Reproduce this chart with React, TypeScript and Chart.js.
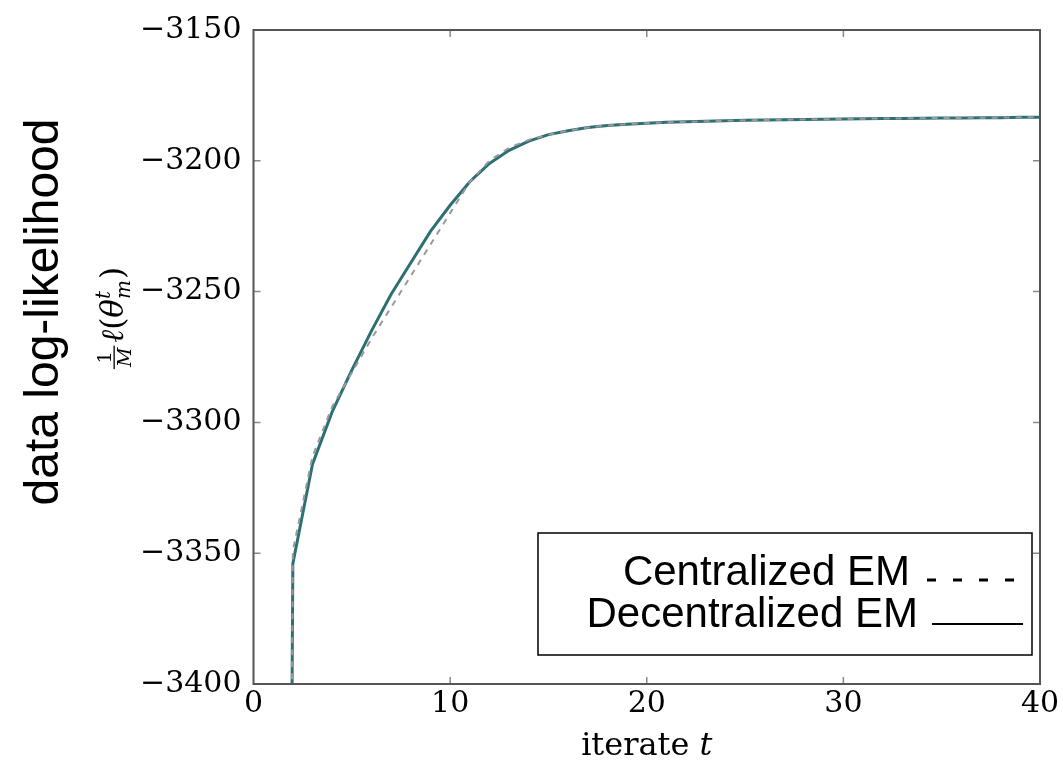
import React, { useEffect, useRef } from "react";
import { Chart, registerables } from "chart.js";

Chart.register(...registerables);

// ---- data ----
const iterations = [
  1, 2, 3, 4, 5, 6, 7, 8, 9, 10, 11, 12, 13, 14, 15, 16, 17, 18, 19, 20,
  21, 22, 23, 24, 25, 26, 27, 28, 29, 30, 31, 32, 33, 34, 35, 36, 37, 38, 39, 40,
];
const centralizedEM = [
  -4600, -3349, -3313, -3294, -3281, -3268, -3256, -3244, -3232, -3220,
  -3208, -3200, -3195, -3192, -3190, -3188.5, -3187.3, -3186.5, -3186, -3185.6,
  -3185.3, -3185.1, -3184.9, -3184.7, -3184.5, -3184.4, -3184.3, -3184.2, -3184.1, -3184,
  -3183.9, -3183.8, -3183.8, -3183.7, -3183.6, -3183.6, -3183.5, -3183.5, -3183.4, -3183.4,
];
const decentralizedEM = [
  -4600, -3354, -3316, -3296, -3280, -3265, -3251, -3239, -3227, -3217,
  -3208, -3201, -3196, -3192.5, -3190, -3188.5, -3187.3, -3186.5, -3186, -3185.6,
  -3185.3, -3185.1, -3184.9, -3184.7, -3184.5, -3184.4, -3184.3, -3184.2, -3184.1, -3184,
  -3183.9, -3183.8, -3183.8, -3183.7, -3183.6, -3183.6, -3183.5, -3183.5, -3183.4, -3183.4,
];
const seriesLabels = ["Centralized EM", "Decentralized EM"];
const xTickValues = [0, 10, 20, 30, 40];
const yTickValues = [-3400, -3350, -3300, -3250, -3200, -3150];
const xTitle = "iterate ";
const xTitleVar = "t";
const yTitleOuter = "data log-likelihood";

const SERIF = '"DejaVu Serif", "Liberation Serif", serif';
const SANS = '"Liberation Sans", Arial, sans-serif';

const framePlugin = {
  id: "frameTicks",
  afterDraw(chart: any) {
    const ctx = chart.ctx;
    const { left, right, top, bottom } = chart.chartArea;
    const xs = chart.scales.x;
    const ys = chart.scales.y;
    ctx.save();
    ctx.strokeStyle = "#8a8a8a";
    ctx.lineWidth = 1.5;
    const tl = 7;
    xTickValues.slice(1, -1).forEach((v) => {
      const px = xs.getPixelForValue(v);
      ctx.beginPath();
      ctx.moveTo(px, bottom);
      ctx.lineTo(px, bottom - tl);
      ctx.moveTo(px, top);
      ctx.lineTo(px, top + tl);
      ctx.stroke();
    });
    yTickValues.slice(1, -1).forEach((v) => {
      const py = ys.getPixelForValue(v);
      ctx.beginPath();
      ctx.moveTo(left, py);
      ctx.lineTo(left + tl, py);
      ctx.moveTo(right, py);
      ctx.lineTo(right - tl, py);
      ctx.stroke();
    });
    ctx.strokeStyle = "#555";
    ctx.lineWidth = 2;
    ctx.strokeRect(left, top, right - left, bottom - top);
    ctx.restore();
  },
};

const titlesPlugin = {
  id: "axisTitles",
  afterDraw(chart: any) {
    const ctx = chart.ctx;
    const { left, right, bottom } = chart.chartArea;
    ctx.save();
    ctx.fillStyle = "#000";
    ctx.textBaseline = "alphabetic";
    ctx.textAlign = "left";

    // x title: "iterate t"
    const fReg = `32px ${SERIF}`;
    const fIt = `italic 32px ${SERIF}`;
    ctx.font = fReg;
    const w1 = ctx.measureText(xTitle).width;
    ctx.font = fIt;
    const w2 = ctx.measureText(xTitleVar).width;
    const cx = (left + right) / 2;
    const bx = cx - (w1 + w2) / 2;
    ctx.font = fReg;
    ctx.fillText(xTitle, bx, bottom + 71);
    ctx.font = fIt;
    ctx.fillText(xTitleVar, bx + w1, bottom + 71);

    // outer y title
    const cy = 312;
    ctx.save();
    ctx.translate(58, cy);
    ctx.rotate(-Math.PI / 2);
    ctx.font = `48px ${SANS}`;
    ctx.textAlign = "center";
    ctx.fillText(yTitleOuter, 0, 0);
    ctx.restore();

    // math y title: 1/M l(theta^t_m)
    ctx.save();
    ctx.translate(123, 318);
    ctx.rotate(-Math.PI / 2);
    ctx.textAlign = "left";
    const big = 31;
    const small = 20;
    const fracF = `19px ${SERIF}`;
    const fracFI = `italic 19px ${SERIF}`;
    ctx.font = fracFI;
    const wM = ctx.measureText("M").width;
    ctx.font = fracF;
    const w1n = ctx.measureText("1").width;
    const fw = wM + 4;
    ctx.font = `italic ${big}px ${SERIF}`;
    const wl = ctx.measureText("\u2113").width;
    const wth = ctx.measureText("\u03B8").width;
    ctx.font = `${big}px ${SERIF}`;
    const wp = ctx.measureText("(").width;
    const wq = ctx.measureText(")").width;
    ctx.font = `italic ${small}px ${SERIF}`;
    const wt = ctx.measureText("t").width;
    const wm = ctx.measureText("m").width;
    const total = fw + 3 + wl + wp + wth + Math.max(wt, wm) + 1 + wq;
    let x = -total / 2;
    // fraction
    ctx.font = fracF;
    ctx.fillText("1", x + (fw - w1n) / 2, -12);
    ctx.fillRect(x, -9.5, fw, 1.3);
    ctx.font = fracFI;
    ctx.fillText("M", x + (fw - wM) / 2, 8);
    x += fw + 3;
    ctx.font = `italic ${big}px ${SERIF}`;
    ctx.fillText("\u2113", x, 0);
    x += wl;
    ctx.font = `${big}px ${SERIF}`;
    ctx.fillText("(", x, 0);
    x += wp;
    ctx.font = `italic ${big}px ${SERIF}`;
    ctx.fillText("\u03B8", x, 0);
    x += wth;
    ctx.font = `italic ${small}px ${SERIF}`;
    ctx.fillText("t", x, -13);
    ctx.fillText("m", x, 7);
    x += Math.max(wt, wm) + 1;
    ctx.font = `${big}px ${SERIF}`;
    ctx.fillText(")", x, 0);
    ctx.restore();

    ctx.restore();
  },
};

const legendPlugin = {
  id: "boxLegend",
  afterDraw(chart: any) {
    const ctx = chart.ctx;
    const { right, bottom } = chart.chartArea;
    const bR = right - 8;
    const bB = bottom - 29;
    const bw = 494;
    const bh = 122;
    const bL = bR - bw;
    const bT = bB - bh;
    ctx.save();
    ctx.fillStyle = "#fff";
    ctx.fillRect(bL, bT, bw, bh);
    ctx.strokeStyle = "#000";
    ctx.lineWidth = 1.5;
    ctx.strokeRect(bL, bT, bw, bh);
    ctx.font = `42px ${SANS}`;
    ctx.fillStyle = "#000";
    ctx.textAlign = "right";
    ctx.textBaseline = "alphabetic";
    const ds = chart.data.datasets;
    // row 1: centralized (dashed)
    ctx.fillText(ds[0].label, bR - 122, bT + 52);
    ctx.beginPath();
    ctx.setLineDash([9, 17]);
    ctx.lineWidth = 3;
    ctx.moveTo(bR - 105, bT + 47);
    ctx.lineTo(bR - 5, bT + 47);
    ctx.stroke();
    // row 2: decentralized (solid)
    ctx.fillText(ds[1].label, bR - 114, bT + 94);
    ctx.beginPath();
    ctx.setLineDash([]);
    ctx.lineWidth = 2;
    ctx.moveTo(bR - 100, bT + 91);
    ctx.lineTo(bR - 9, bT + 91);
    ctx.stroke();
    ctx.restore();
  },
};

export default function App() {
  const ref = useRef<HTMLCanvasElement>(null);
  useEffect(() => {
    if (!ref.current) return;
    const chart = new Chart(ref.current, {
      type: "line",
      data: {
        datasets: [
          {
            label: seriesLabels[0],
            data: iterations.map((t, i) => ({ x: t, y: centralizedEM[i] })),
            borderColor: "#9a9a9a",
            borderWidth: 2,
            borderDash: [6, 6],
            pointRadius: 0,
            tension: 0,
            fill: false,
          },
          {
            label: seriesLabels[1],
            data: iterations.map((t, i) => ({ x: t, y: decentralizedEM[i] })),
            borderColor: "#2c7073",
            borderWidth: 3,
            pointRadius: 0,
            tension: 0,
            fill: false,
          },
        ],
      },
      options: {
        animation: false,
        responsive: true,
        maintainAspectRatio: false,
        devicePixelRatio: 1,
        layout: { padding: { left: 0, top: 27, right: 23, bottom: 0 } },
        plugins: {
          legend: { display: false },
          tooltip: { enabled: false },
          title: { display: false },
        },
        scales: {
          x: {
            type: "linear",
            min: 0,
            max: 40,
            afterBuildTicks: (s: any) => {
              s.ticks = xTickValues.map((v) => ({ value: v }));
            },
            afterFit: (s: any) => {
              s.height = 84;
            },
            grid: { display: false, drawTicks: false },
            border: { display: false },
            ticks: {
              autoSkip: false,
              maxRotation: 0,
              padding: 2,
              color: "#000",
              font: { family: SERIF, size: 30 },
            },
          },
          y: {
            type: "linear",
            min: -3400,
            max: -3150,
            afterBuildTicks: (s: any) => {
              s.ticks = yTickValues.map((v) => ({ value: v }));
            },
            afterFit: (s: any) => {
              s.width = 253.5;
            },
            grid: { display: false, drawTicks: false },
            border: { display: false },
            ticks: {
              autoSkip: false,
              padding: 12,
              color: "#000",
              font: { family: SERIF, size: 30 },
              callback: (v: any) => (v < 0 ? "\u2212" + Math.abs(v) : String(v)),
            },
          },
        },
      },
      plugins: [framePlugin, titlesPlugin, legendPlugin],
    } as any);
    return () => chart.destroy();
  }, []);
  return (
    <div style={{ position: "fixed", left: 0, top: 0, width: 1063, height: 768, background: "#fff" }}>
      <canvas ref={ref} />
    </div>
  );
}
